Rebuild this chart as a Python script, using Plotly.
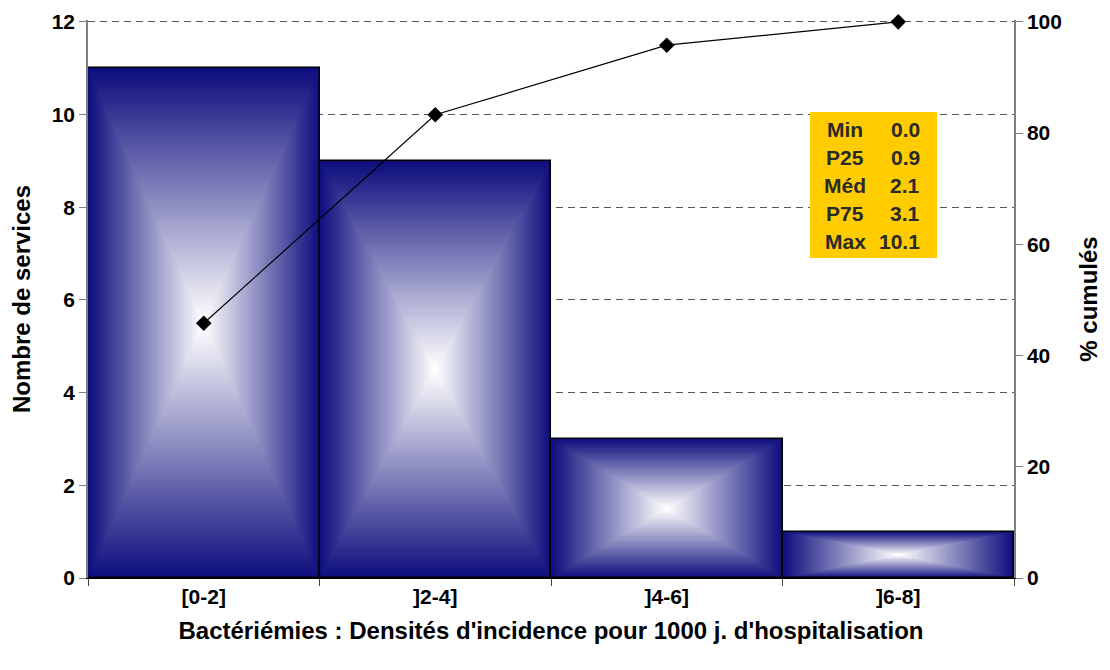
import plotly.graph_objects as go

categories = ["[0-2]", "]2-4]", "]4-6]", "]6-8]"]
counts = [11, 9, 3, 1]
cumul_pct = [45.8, 83.3, 95.8, 100.0]

stat_labels = ["Min", "P25", "Méd", "P75", "Max"]
stat_values = ["0.0", "0.9", "2.1", "3.1", "10.1"]

FONT = "Arial, Liberation Sans, sans-serif"
EDGE = (14, 14, 126)
N = 60

fig = go.Figure()

# nested bars to simulate rectangular gradient (navy edges -> white centre)
for k in range(N):
    f = k / N
    t = k / (N - 1)
    r = int(EDGE[0] + (255 - EDGE[0]) * t)
    g = int(EDGE[1] + (255 - EDGE[1]) * t)
    b = int(EDGE[2] + (255 - EDGE[2]) * t)
    fig.add_trace(go.Bar(
        x=categories,
        y=[c * (1 - f) for c in counts],
        base=[c * f / 2 for c in counts],
        width=[1 - f] * len(categories),
        marker=dict(color=f"rgb({r},{g},{b})", line=dict(width=0)),
        hoverinfo="skip", showlegend=False,
    ))

# outline
fig.add_trace(go.Bar(
    x=categories, y=counts, width=[1] * len(categories),
    marker=dict(color="rgba(0,0,0,0)", line=dict(color="black", width=1.5)),
    showlegend=False,
))

fig.add_trace(go.Scatter(
    x=categories, y=cumul_pct, yaxis="y2", mode="lines+markers",
    line=dict(color="black", width=1.2),
    marker=dict(symbol="diamond", size=12, color="black"),
    showlegend=False,
    cliponaxis=False,
))

# page body has an 8px margin: figure origin is at (8, 8) in the screenshot
OFF = 8
W, H = 1102, 662
L, T = 88 - OFF, 20 - OFF
R = W - (1014 - OFF)
B = H - (578 - OFF)
pw, ph = W - L - R, H - T - B

def px(x):
    return (x - OFF - L) / pw

def py(y):
    return (H - B - (y - OFF)) / ph

fig.add_shape(type="rect", xref="paper", yref="paper",
              x0=px(810), x1=px(937), y0=py(258), y1=py(112),
              fillcolor="#FFCC00", line=dict(width=0), layer="above")

tick = dict(family=FONT, size=21, color="black", weight="bold")
ttl = dict(family=FONT, size=24, color="black", weight="bold")
box = dict(family=FONT, size=21, color="#2a2a2a", weight="bold")
for i, (lab, val) in enumerate(zip(stat_labels, stat_values)):
    yy = py(129 + i * 28.2)
    fig.add_annotation(xref="paper", yref="paper", x=px(845), y=yy,
                       text=lab, showarrow=False, xanchor="center",
                       yanchor="middle", font=box)
    fig.add_annotation(xref="paper", yref="paper", x=px(922), y=yy,
                       text=val, showarrow=False, xanchor="right",
                       yanchor="middle", font=box)

YMAX = 12.04
fig.update_layout(
    width=W, height=H,
    margin=dict(l=L, r=R, t=T, b=B, autoexpand=False),
    paper_bgcolor="white", plot_bgcolor="white",
    barmode="overlay", bargap=0,
    font=tick,
    xaxis=dict(
        type="category", showline=True, linecolor="black", linewidth=1,
        ticks="outside", tickson="boundaries", ticklen=7, tickcolor="#444",
        showgrid=False, tickfont=tick, automargin=False,
        title=dict(text="Bactériémies : Densités d'incidence pour 1000 j. d'hospitalisation",
                   font=ttl, standoff=14),
    ),
    yaxis=dict(
        range=[0, YMAX], tickvals=[0, 2, 4, 6, 8, 10, 12],
        showline=True, linecolor="#808080", linewidth=1.5,
        ticks="outside", ticklen=7, tickcolor="#808080",
        showgrid=True, gridcolor="#555555", griddash="7px,5px", gridwidth=1,
        zeroline=False, tickfont=tick, automargin=False,
        title=dict(text="Nombre de services", font=ttl, standoff=16),
    ),
    yaxis2=dict(
        overlaying="y", side="right", range=[0, YMAX * 100 / 12],
        tickvals=[0, 20, 40, 60, 80, 100],
        showline=True, linecolor="#808080", linewidth=1.5,
        ticks="outside", ticklen=7, tickcolor="#808080",
        showgrid=False, zeroline=False, tickfont=tick, automargin=False,
        title=dict(text="% cumulés", font=ttl, standoff=19),
    ),
)

fig.write_html("out.html")
